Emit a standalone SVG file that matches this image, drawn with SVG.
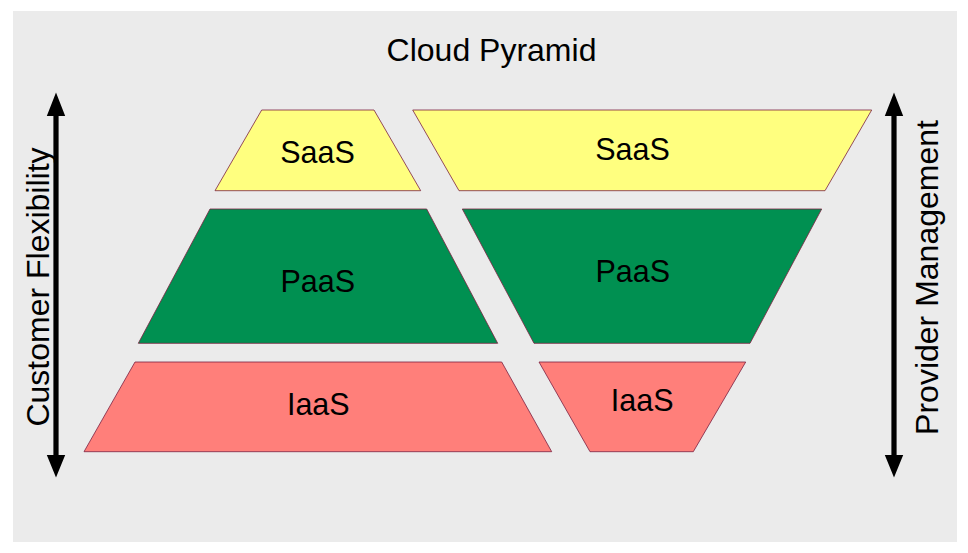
<svg xmlns="http://www.w3.org/2000/svg" width="968" height="553" viewBox="0 0 968 553">
<style>
.t{font-family:"Liberation Sans",Arial,Helvetica,sans-serif;fill:#000;text-anchor:middle}
.lbl{font-size:30.5px}
.big{font-size:32px}
.tier{stroke:#7b2040;stroke-width:0.8}
.saas{fill:#ffff7f}
.paas{fill:#009051}
.iaas{fill:#ff7f7a}
.arr{fill:#000}
</style>
<rect x="0" y="0" width="968" height="553" fill="#ffffff"/>
<rect x="13" y="11" width="944" height="531" fill="#ebebeb"/>
<text class="t big" x="491.5" y="61">Cloud Pyramid</text>
<g id="saas-left">
<polygon class="tier saas" points="261.7,110 374,110 420.7,190.7 215,190.7"/>
<text class="t lbl" x="317.5" y="163">SaaS</text>
</g>
<g id="saas-right">
<polygon class="tier saas" points="412.7,110 871.7,110 825,190.7 459,190.7"/>
<text class="t lbl" x="632.5" y="160">SaaS</text>
</g>
<g id="paas-left">
<polygon class="tier paas" points="210,209 426.7,209 497.7,343.3 138.3,343.3"/>
<text class="t lbl" x="317.8" y="291.5">PaaS</text>
</g>
<g id="paas-right">
<polygon class="tier paas" points="462.3,209 821.7,209 750,343.3 534,343.3"/>
<text class="t lbl" x="632.7" y="282.3">PaaS</text>
</g>
<g id="iaas-left">
<polygon class="tier iaas" points="135,362 501.7,362 551.7,451.7 84,451.7"/>
<text class="t lbl" x="318.3" y="415">IaaS</text>
</g>
<g id="iaas-right">
<polygon class="tier iaas" points="539,362 745.7,362 693.3,451.7 590,451.7"/>
<text class="t lbl" x="642.2" y="411">IaaS</text>
</g>
<g id="connectors">
<path class="arr" d="M56,92.5 L65.2,116 L58.6,116 L58.6,455 L65.2,455 L56,477.5 L46.8,455 L53.4,455 L53.4,116 L46.8,116 Z"/>
<path class="arr" d="M894,92.5 L903.2,116 L896.6,116 L896.6,455 L903.2,455 L894,477.5 L884.8,455 L891.4,455 L891.4,116 L884.8,116 Z"/>
</g>
<g id="axis-left">
<text class="t big" transform="translate(49,287) rotate(-90)">Customer Flexibility</text>
</g>
<g id="axis-right">
<text class="t big" transform="translate(938,277.5) rotate(-90)">Provider Management</text>
</g>
</svg>
